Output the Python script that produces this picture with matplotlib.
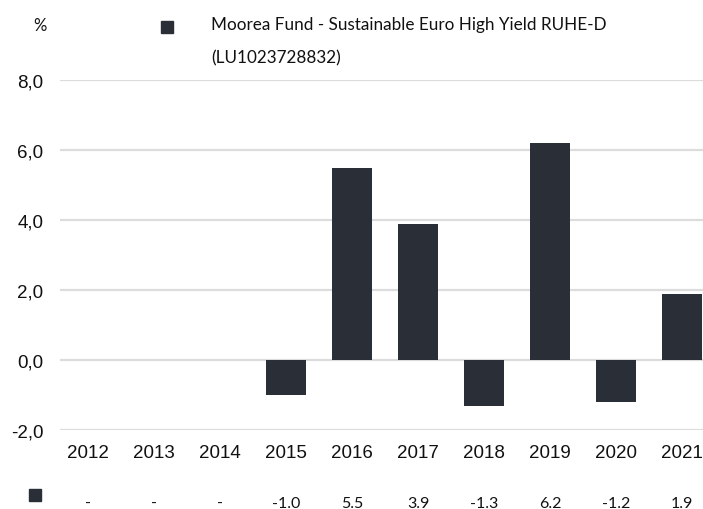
import numpy as np
import matplotlib as mpl
import matplotlib.pyplot as plt
from matplotlib.patches import Rectangle

years = ["2012", "2013", "2014", "2015", "2016", "2017", "2018", "2019", "2020", "2021"]
returns = [np.nan, np.nan, np.nan, -1.0, 5.5, 3.9, -1.3, 6.2, -1.2, 1.9]
row_labels = ["-", "-", "-", "-1.0", "5.5", "3.9", "-1.3", "6.2", "-1.2", "1.9"]
yticks = [-2, 0, 2, 4, 6, 8]
fund_line1 = "Moorea Fund - Sustainable Euro High Yield RUHE-D"
fund_line2 = "(LU1023728832)"

bar_color = "#2a2e37"
grid_color = "#dcdcdc"
W, H = 703, 510

mpl.rcParams.update({
    "font.family": "Liberation Sans",
})

fig = plt.figure(figsize=(W / 100, H / 100), dpi=100)
# axes placed in pixel terms: left 60px, y=8 at 81px, y=-2 at 431px
ax = fig.add_axes([60 / W, 1 - 431 / H, 1 - 60 / W, 350 / H])

x = np.arange(len(years))
ax.bar(x, np.nan_to_num(returns), width=0.61, color=bar_color, zorder=3)

ax.set_ylim(-2, 8)
ax.set_xlim(-0.424, 9.318)
ax.set_yticks(yticks)
ax.set_yticklabels([f"{v:.1f}".replace(".", ",") for v in yticks])
ax.set_xticks(x)
ax.set_xticklabels(years)
ax.tick_params(axis="both", length=0, labelsize=13.5, colors="#111111")
ax.tick_params(axis="y", pad=12)
ax.tick_params(axis="x", pad=10)
ax.grid(axis="y", color=grid_color, linewidth=1.6, zorder=0)
for s in ax.spines.values():
    s.set_visible(False)

# value row under the axis
for xi, lab in zip(x, row_labels):
    ax.text(xi, -0.208, lab, transform=ax.get_xaxis_transform(),
            ha="center", va="center", fontsize=11.5, family="Lato", color="#111111")
fig.add_artist(Rectangle((29 / W, 1 - 502 / H), 12 / W, 12 / H,
                         transform=fig.transFigure, color=bar_color))

# header
fig.text(47 / W, 1 - 26 / H, "%", ha="right", va="center", fontsize=12, family="Lato", color="#111111")
fig.add_artist(Rectangle((161 / W, 1 - 34 / H), 12 / W, 12 / H,
                         transform=fig.transFigure, color=bar_color))
fig.text(211 / W, 1 - 25 / H, fund_line1, ha="left", va="center", fontsize=12.3,
         family="Lato", color="#111111")
fig.text(211 / W, 1 - 58 / H, fund_line2, ha="left", va="center", fontsize=12.3,
         family="Lato", color="#111111")

fig.savefig("out.png", dpi=100)
plt.close(fig)
